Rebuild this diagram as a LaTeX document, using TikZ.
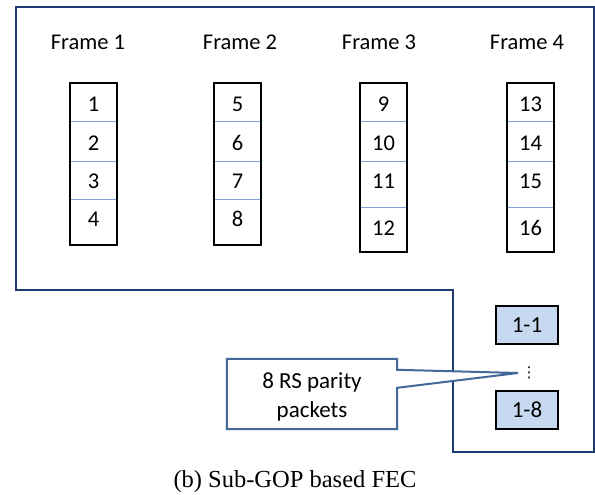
\documentclass[tikz,border=0pt]{standalone}
\usepackage{fontspec}
\setmainfont{Carlito}
\newfontfamily\capfont{Liberation Serif}
\newfontfamily\symfont{DejaVu Sans}
\usetikzlibrary{calc}
\definecolor{navy}{HTML}{1F3A70}
\definecolor{callblue}{HTML}{41699A}
\definecolor{divblue}{HTML}{7FA3D8}
\definecolor{boxfill}{HTML}{C6D9F1}
\begin{document}
\begin{tikzpicture}[x=1pt,y=-1pt,
  lbl/.style={font=\fontsize{22.5}{27}\selectfont, anchor=base, inner sep=0pt},
  num/.style={font=\fontsize{22.5}{27}\selectfont, anchor=base, inner sep=0pt},
  col/.style={draw=black, line width=2pt},
  divider/.style={draw=divblue, line width=1pt},
  parity/.style={draw=black, line width=2pt, fill=boxfill, minimum width=62pt, minimum height=38pt, inner sep=0pt, font=\fontsize{23}{27}\selectfont},
  outerline/.style={draw=navy, line width=2pt},
  calloutline/.style={draw=callblue, line width=2pt, fill=white},
  calltext/.style={font=\fontsize{23}{28.5}\selectfont, align=center, inner sep=0pt}
]
\useasboundingbox (0,0) rectangle (595,495);
% outer frame
\draw[outerline] (16,7) -- (594,7) -- (594,452) -- (453,452) -- (453,290) -- (16,290) -- cycle;

% frame labels
\node[lbl] (f1) at (88,50) {Frame 1};
\node[lbl] (f2) at (240,50) {Frame 2};
\node[lbl] (f3) at (379,50) {Frame 3};
\node[lbl] (f4) at (527,50) {Frame 4};

% columns 1 and 2
\foreach \k/\xl in {1/70,2/214}{
  \coordinate (b\k nw) at (\xl,83);
  \coordinate (b\k se) at (\xl+47,245);
  \foreach \yy in {122,161,199}{
    \draw[divider] (\xl,\yy) -- (\xl+47,\yy);
  }
  \draw[col] (b\k nw) rectangle (b\k se);
}
% columns 3 and 4
\foreach \k/\xl in {3/360,4/507}{
  \coordinate (b\k nw) at (\xl,83);
  \coordinate (b\k se) at (\xl+47,252);
  \foreach \yy in {122,161,207}{
    \draw[divider] (\xl,\yy) -- (\xl+47,\yy);
  }
  \draw[col] (b\k nw) rectangle (b\k se);
}
% numbers
\foreach \n/\yy in {1/112,2/150,3/188,4/226}{\node[num] (c\n) at (93.5,\yy) {\n};}
\foreach \n/\yy in {5/112,6/150,7/188,8/226}{\node[num] (c\n) at (237.5,\yy) {\n};}
\foreach \n/\yy in {9/112,10/150,11/188,12/235}{\node[num] (c\n) at (383.5,\yy) {\n};}
\foreach \n/\yy in {13/112,14/150,15/188,16/235}{\node[num] (c\n) at (530.5,\yy) {\n};}

% parity packets
\node[parity] (p1) at (527,325) {1-1};
\node[parity] (p8) at (527,409.5) {1-8};
\node[inner sep=0pt, font=\symfont\fontsize{15}{15}\selectfont] (dots) at (529,373) {⋮};

% callout
\coordinate (tip) at (518,373);
\node[minimum width=170pt, minimum height=70pt, inner sep=0pt] (cb) at (312,394) {};
\draw[calloutline] (cb.north west) -- (cb.north east) -- ($(cb.north east)+(0,11)$) -- (tip)
  -- ($(cb.north east)+(0,29)$) -- (cb.south east) -- (cb.south west) -- cycle;
\node[calltext] (cbt) at (312,397) {8 RS parity\\packets};

% caption
\node[font=\capfont\fontsize{24.5}{28}\selectfont, anchor=base, inner sep=0pt] (cap) at (295,487) {(b) Sub-GOP based FEC};
\end{tikzpicture}
\end{document}
